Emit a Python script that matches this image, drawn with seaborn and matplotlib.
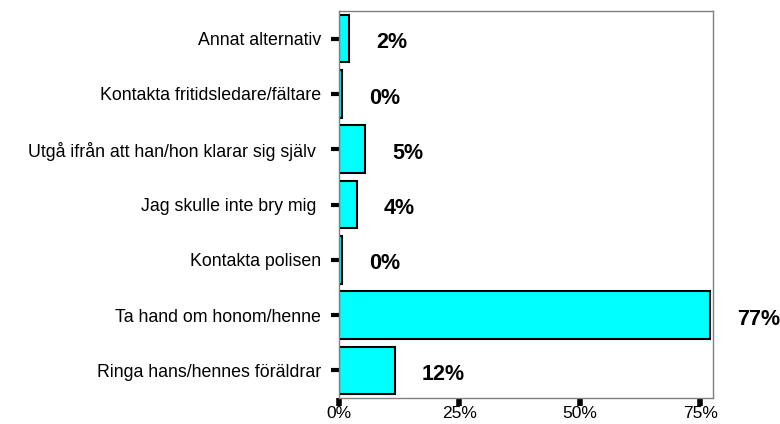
import pandas as pd
import matplotlib.pyplot as plt
import seaborn as sns
from matplotlib.ticker import FuncFormatter

# data
categories = ['Annat alternativ', 'Kontakta fritidsledare/fältare',
              'Utgå ifrån att han/hon klarar sig själv ', 'Jag skulle inte bry mig ',
              'Kontakta polisen', 'Ta hand om honom/henne', 'Ringa hans/hennes föräldrar']
values = [2.1, 0.6, 5.4, 3.7, 0.6, 77.0, 11.6]
labels = ['2%', '0%', '5%', '4%', '0%', '77%', '12%']

df = pd.DataFrame({'alt': categories, 'pct': values})

sns.set_style('white')
plt.rcParams['font.family'] = ['Liberation Sans', 'DejaVu Sans']
plt.rcParams['text.color'] = 'black'
plt.rcParams['xtick.color'] = 'black'
plt.rcParams['ytick.color'] = 'black'

fig = plt.figure(figsize=(7.8, 4.24), dpi=100)
ax = fig.add_axes([0.4346, 0.0613, 0.914 - 0.4346, 0.974 - 0.0613])

sns.barplot(data=df, y='alt', x='pct', orient='h', color='#00FFFF',
            saturation=1, edgecolor='black', linewidth=1.5, width=0.86, ax=ax)

for i, (v, lab) in enumerate(zip(values, labels)):
    ax.annotate(lab, xy=(v, i), xytext=(19.5, -3), textcoords='offset points',
                ha='left', va='center', fontsize=15.5, fontweight='bold', color='black')

ax.set_xlim(0, 77.6)
ax.set_ylim(6.5, -0.5)
ax.set_xticks([0, 25, 50, 75])
ax.xaxis.set_major_formatter(FuncFormatter(lambda x, p: f'{x:.0f}%'))
ax.set_xlabel('')
ax.set_ylabel('')
ax.tick_params(axis='y', length=6, width=3, color='black', labelsize=12.8, pad=7, left=True)
ax.tick_params(axis='x', length=6, width=4, color='black', labelsize=12.5, pad=0, bottom=True)
for s in ax.spines.values():
    s.set_color('#808080')
    s.set_linewidth(1)

plt.savefig('out.png', dpi=100)
